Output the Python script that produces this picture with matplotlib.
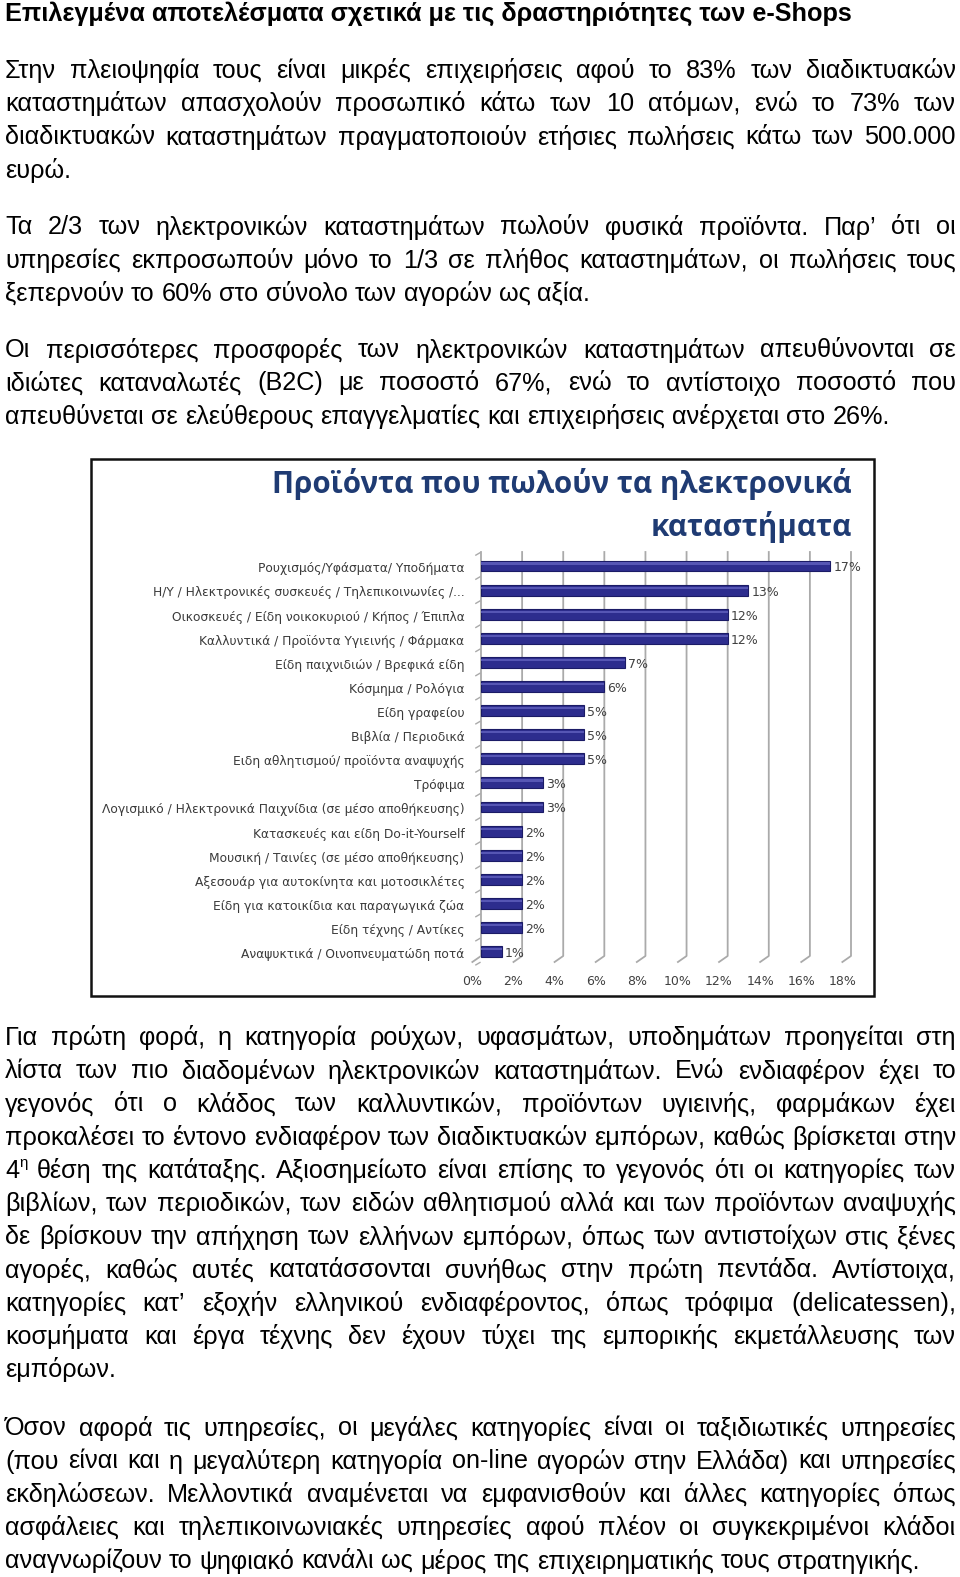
# Page with e-shop results text and bar chart of product categories
import matplotlib
matplotlib.use('Agg')
import matplotlib.pyplot as plt
from matplotlib.patches import Rectangle

W, H = 960, 1577
BODY_FONT = 'Liberation Sans'
BODY_SIZE = 18.2

title = "Επιλεγμένα αποτελέσματα σχετικά με τις δραστηριότητες των e-Shops"

par1 = ["Στην πλειοψηφία τους είναι μικρές επιχειρήσεις αφού το 83% των διαδικτυακών",
        "καταστημάτων απασχολούν προσωπικό κάτω των 10 ατόμων, ενώ το 73% των",
        "διαδικτυακών καταστημάτων πραγματοποιούν ετήσιες πωλήσεις κάτω των 500.000",
        "ευρώ."]
par2 = ["Τα 2/3 των ηλεκτρονικών καταστημάτων πωλούν φυσικά προϊόντα. Παρ’ ότι οι",
        "υπηρεσίες εκπροσωπούν μόνο το 1/3 σε πλήθος καταστημάτων, οι πωλήσεις τους",
        "ξεπερνούν το 60% στο σύνολο των αγορών ως αξία."]
par3 = ["Οι περισσότερες προσφορές των ηλεκτρονικών καταστημάτων απευθύνονται σε",
        "ιδιώτες καταναλωτές (B2C) με ποσοστό 67%, ενώ το αντίστοιχο ποσοστό που",
        "απευθύνεται σε ελεύθερους επαγγελματίες και επιχειρήσεις ανέρχεται στο 26%."]
par4 = ["Για πρώτη φορά, η κατηγορία ρούχων, υφασμάτων, υποδημάτων προηγείται στη",
        "λίστα των πιο διαδομένων ηλεκτρονικών καταστημάτων. Ενώ ενδιαφέρον έχει το",
        "γεγονός ότι ο κλάδος των καλλυντικών, προϊόντων υγιεινής, φαρμάκων έχει",
        "προκαλέσει το έντονο ενδιαφέρον των διαδικτυακών εμπόρων, καθώς βρίσκεται στην",
        "4^η θέση της κατάταξης. Αξιοσημείωτο είναι επίσης το γεγονός ότι οι κατηγορίες των",
        "βιβλίων, των περιοδικών, των ειδών αθλητισμού αλλά και των προϊόντων αναψυχής",
        "δε βρίσκουν την απήχηση των ελλήνων εμπόρων, όπως των αντιστοίχων στις ξένες",
        "αγορές, καθώς αυτές κατατάσσονται συνήθως στην πρώτη πεντάδα. Αντίστοιχα,",
        "κατηγορίες κατ’ εξοχήν ελληνικού ενδιαφέροντος, όπως τρόφιμα (delicatessen),",
        "κοσμήματα και έργα τέχνης δεν έχουν τύχει της εμπορικής εκμετάλλευσης των",
        "εμπόρων."]
par5 = ["Όσον αφορά τις υπηρεσίες, οι μεγάλες κατηγορίες είναι οι ταξιδιωτικές υπηρεσίες",
        "(που είναι και η μεγαλύτερη κατηγορία on-line αγορών στην Ελλάδα) και υπηρεσίες",
        "εκδηλώσεων. Μελλοντικά αναμένεται να εμφανισθούν και άλλες κατηγορίες όπως",
        "ασφάλειες και τηλεπικοινωνιακές υπηρεσίες αφού πλέον οι συγκεκριμένοι κλάδοι",
        "αναγνωρίζουν το ψηφιακό κανάλι ως μέρος της επιχειρηματικής τους στρατηγικής."]

chart_title = ["Προϊόντα που πωλούν τα ηλεκτρονικά", "καταστήματα"]
categories = ["Ρουχισμός/Υφάσματα/ Υποδήματα",
              "Η/Υ / Ηλεκτρονικές συσκευές / Τηλεπικοινωνίες /...",
              "Οικοσκευές / Είδη νοικοκυριού / Κήπος / Έπιπλα",
              "Καλλυντικά / Προϊόντα Υγιεινής / Φάρμακα",
              "Είδη παιχνιδιών / Βρεφικά είδη",
              "Κόσμημα / Ρολόγια",
              "Είδη γραφείου",
              "Βιβλία / Περιοδικά",
              "Ειδη αθλητισμού/ προϊόντα αναψυχής",
              "Τρόφιμα",
              "Λογισμικό / Ηλεκτρονικά Παιχνίδια (σε μέσο αποθήκευσης)",
              "Κατασκευές και είδη Do-it-Yourself",
              "Μουσική / Ταινίες (σε μέσο αποθήκευσης)",
              "Αξεσουάρ για αυτοκίνητα και μοτοσικλέτες",
              "Είδη για κατοικίδια και παραγωγικά ζώα",
              "Είδη τέχνης / Αντίκες",
              "Αναψυκτικά / Οινοπνευματώδη ποτά"]
values = [17, 13, 12, 12, 7, 6, 5, 5, 5, 3, 3, 2, 2, 2, 2, 2, 1]
xticks = [0, 2, 4, 6, 8, 10, 12, 14, 16, 18]

fig = plt.figure(figsize=(W / 100, H / 100), dpi=100)
page = fig.add_axes([0, 0, 1, 1])
page.set_xlim(0, W)
page.set_ylim(H, 0)
page.axis('off')
renderer = fig.canvas.get_renderer()


def width_of(t):
    return t.get_window_extent(renderer).width


def draw_line(line, y, justify):
    left, right = 5, 956
    items = []
    for word in line.split():
        if '^' in word:
            base, sup = word.split('^')
            t1 = page.text(0, y, base, fontsize=BODY_SIZE, family=BODY_FONT, va='center')
            t2 = page.text(0, y - 8, sup, fontsize=BODY_SIZE * 0.6, family=BODY_FONT, va='center')
            w1 = width_of(t1)
            items.append(([(t1, 0), (t2, w1)], w1 + width_of(t2)))
        else:
            t = page.text(0, y, word, fontsize=BODY_SIZE, family=BODY_FONT, va='center')
            items.append(([(t, 0)], width_of(t)))
    total = sum(w for _, w in items)
    if justify and len(items) > 1:
        gap = (right - left - total) / (len(items) - 1)
    else:
        gap = BODY_SIZE * 0.28 * 100 / 72
    x = left
    for parts, w in items:
        for t, dx in parts:
            t.set_x(x + dx)
        x += w + gap


def draw_par(lines, y0, step=33.2):
    for i, line in enumerate(lines):
        draw_line(line, y0 + i * step, i < len(lines) - 1)


page.text(5, 13.5, title, fontsize=BODY_SIZE, family=BODY_FONT, weight='bold', va='center')
draw_par(par1, 70.6)
draw_par(par2, 227.5)
draw_par(par3, 350.2)
draw_par(par4, 1038)
draw_par(par5, 1428.3)

# chart frame and title
page.add_patch(Rectangle((90.5, 458.6), 783, 537, fill=False, edgecolor='#111111', lw=1.8))
for i, line in enumerate(chart_title):
    page.text(852, 484 + i * 43, line, fontsize=21.3, family='Open Sans', weight='bold',
              color='#1F3B73', ha='right', va='center')

# bar chart
ax = fig.add_axes([481 / W, 1 - 962 / H, 370 / W, 410 / H])
ax.set_xlim(0, 18)
ax.set_ylim(16.43, -0.58)
ax.axis('off')
ypos = list(range(len(categories)))

depth_x, depth_y = 0.42, 0.25
for v in xticks:
    ax.plot([v, v, v - depth_x], [-0.58, 16.43 - depth_y, 16.43],
            color='#aaaaaa', lw=1.3, clip_on=False)
    ax.text(v - depth_x, 17.25, f"{v}%", ha='center', va='center', fontsize=9,
            color='#404040', family='DejaVu Sans', clip_on=False)
# left axis ticks
for k in range(len(categories) + 1):
    ax.plot([-0.25, -0.05], [k - 0.5 + 0.05, k - 0.5 - 0.05], color='#aaaaaa', lw=1, clip_on=False)

ax.barh(ypos, values, height=0.45, color='#2D2D8E', edgecolor='#1B1B66', lw=0.8, zorder=3)
ax.barh([y - 0.1 for y in ypos], values, height=0.09, color='#5656B4', lw=0, zorder=4)

for y, v, c in zip(ypos, values, categories):
    ax.text(v + 0.15, y + 0.08, f"{v}%", ha='left', va='center', fontsize=9,
            color='#404040', family='DejaVu Sans', zorder=5)
    ax.text(-0.8, y + 0.12, c, ha='right', va='center', fontsize=8.85,
            color='#3a3a3a', family='DejaVu Sans', clip_on=False)

fig.savefig('out.png', dpi=100)
